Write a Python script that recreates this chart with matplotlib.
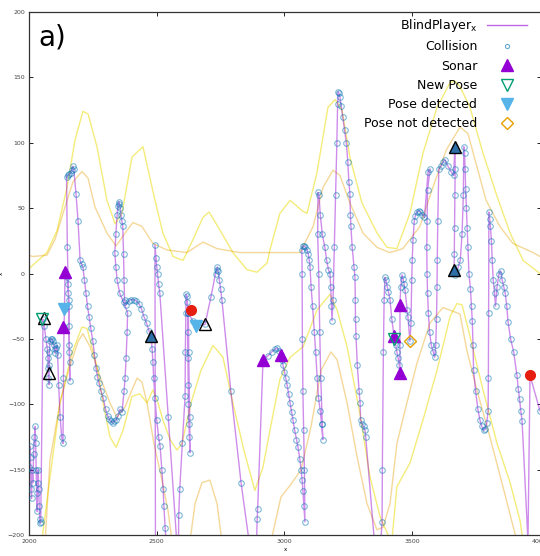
import matplotlib
matplotlib.use("Agg")
import matplotlib.pyplot as plt

plt.rcParams["font.family"] = ["DejaVu Sans"]

# trajectory of the player (time, x)
path_t = [
    2000, 2003, 2006, 2008, 2010, 2012, 2015, 2018, 2021, 2024, 2026, 2028, 2030, 2032, 2034, 2036,
    2038, 2040, 2042, 2044, 2046, 2055,
    2060, 2066, 2072, 2074, 2075, 2076, 2078, 2079, 2080, 2082, 2085, 2089, 2093, 2097, 2100, 2103,
    2106, 2109, 2112, 2116, 2122, 2128, 2133, 2135, 2137, 2139, 2141, 2148, 2152, 2154, 2156, 2157,
    2158, 2159, 2160, 2158, 2155, 2150, 2147, 2152, 2158, 2163, 2167, 2171, 2175, 2184, 2192, 2200,
    2206, 2211, 2217, 2223, 2229, 2235, 2242, 2250, 2256, 2262, 2268, 2274, 2282, 2290, 2300, 2308,
    2313, 2320, 2327, 2334, 2341, 2348, 2355, 2364, 2372, 2376, 2380, 2384, 2386, 2370, 2355, 2345,
    2340, 2336, 2340, 2345, 2348, 2351, 2354, 2357, 2360, 2364, 2367, 2370, 2372, 2374, 2380, 2390,
    2400, 2410, 2420, 2430, 2440, 2450, 2460, 2470, 2478, 2482, 2485, 2488, 2493, 2500, 2507, 2513,
    2520, 2525, 2528, 2533, 2540, 2495, 2493, 2497, 2500, 2503, 2507, 2512, 2545, 2580, 2585, 2586,
    2590, 2600, 2611, 2612, 2614, 2615, 2618, 2620, 2622, 2621, 2622, 2623, 2624, 2626, 2628, 2630,
    2629, 2625, 2624, 2640, 2654, 2689, 2712, 2730, 2734, 2737, 2740, 2745, 2750, 2755, 2790, 2830,
    2865, 2890, 2893, 2895, 2916, 2935, 2950, 2962, 2970, 2978, 2986, 2990, 2994, 3000, 3005, 3010,
    3016, 3022, 3028, 3033, 3040, 3047, 3053, 3060, 3065, 3069, 3072, 3076, 3080, 3078, 3075, 3072,
    3070, 3069, 3068, 3072, 3077, 3082, 3088, 3093, 3097, 3100, 3104, 3110, 3117, 3122, 3128, 3133,
    3140, 3145, 3150, 3148, 3142, 3138, 3134, 3130, 3131, 3135, 3140, 3148, 3158, 3165, 3172, 3178,
    3181, 3184, 3186, 3190, 3195, 3200, 3205, 3208, 3210, 3213, 3217, 3222, 3228, 3235, 3242, 3248,
    3252, 3256, 3258, 3260, 3265, 3272, 3276, 3277, 3278, 3280, 3285, 3292, 3296, 3298, 3303, 3310,
    3315, 3318, 3354, 3375, 3382, 3383, 3387, 3390, 3393, 3397, 3402, 3407, 3413, 3420, 3429, 3436,
    3440, 3445, 3449, 3452, 3452, 3452, 3455, 3460, 3464, 3468, 3472, 3480, 3483, 3491, 3495, 3498,
    3500, 3503, 3508, 3512, 3518, 3525, 3532, 3540, 3548, 3562, 3570, 3560, 3558, 3557, 3558, 3560,
    3563, 3568, 3575, 3582, 3588, 3592, 3595, 3597, 3598, 3600, 3604, 3612, 3620, 3628, 3640, 3652,
    3662, 3667, 3668, 3667, 3666, 3665, 3664, 3668, 3673, 3680, 3688, 3695, 3700, 3702, 3705, 3707,
    3709, 3712, 3715, 3718, 3722, 3728, 3732, 3735, 3738, 3740, 3748, 3757, 3765, 3772, 3780, 3786,
    3792, 3797, 3798, 3799, 3800, 3803, 3806, 3810, 3813, 3817, 3822, 3826, 3832, 3840, 3846, 3852,
    3858, 3864, 3870, 3875, 3885, 3897, 3910, 3915, 3920, 3925, 3930, 3953, 3961, 4000,
]
path_x = [
    -148, -132, -140, -165, -172, -150, -160, -138, -125, -117, -130, -150, -168, -182, -160, -150,
    -165, -178, -188, -191, -190, -35,
    -40, -50, -58, -65, -72, -80, -85, -70, -60, -52, -50, -50, -52, -55, -58, -61,
    -57, -55, -62, -85, -110, -125, -130, -80, -41, -27, 1, -3, -8, -15, -25, -40,
    -55, -68, -82, -60, -20, 20, 74, 75, 76, 77, 79, 82, 80, 61, 40, 10,
    7, 5, -5, -15, -25, -33, -42, -52, -62, -72, -79, -84, -90, -95, -104, -109,
    -111, -113, -114, -113, -112, -109, -104, -106, -90, -80, -65, -45, -30, -22, -15, -5,
    5, 16, 30, 45, 52, 55, 53, 50, 45, 40, 36, 15, -5, -20, -24, -21,
    -20, -20, -21, -23, -27, -33, -38, -44, -48, -58, -68, -80, -95, -112, -125, -132,
    -150, -165, -178, -195, -215, -215, 22, 12, 5, 0, -8, -15, -110, -210, -210, -185,
    -165, -130, -94, -60, -30, -16, -17, -22, -30, -45, -65, -85, -100, -115, -125, -137,
    -110, -60, -30, -36, -40, -39, -18, 0, 3, 5, 2, -5, -12, -20, -90, -160,
    -210, -210, -188, -180, -66, -63, -60, -58, -57, -59, -62, -66, -70, -75, -80, -85,
    -92, -99, -106, -112, -120, -127, -133, -142, -150, -158, -166, -178, -190, -150, -120, -90,
    -50, 0, 18, 21, 21, 20, 18, 15, 10, 5, -10, -25, -45, -60, -80, -95,
    -105, -115, -127, -115, -80, -45, 0, 30, 62, 60, 45, 30, 20, 10, 3, 0,
    -10, -25, -36, -20, 20, 60, 100, 130, 139, 138, 135, 128, 120, 110, 100, 85,
    70, 61, 45, 36, 20, 5, -3, -20, -35, -48, -70, -90, -99, -112, -115, -117,
    -120, -125, -210, -210, -190, -150, -60, -20, -3, -5, -10, -14, -20, -35, -48, -55,
    -60, -65, -70, -76, -55, -24, -10, -1, -4, -8, -13, -28, -33, -52, -38, -5,
    10, 26, 40, 44, 47, 48, 47, 45, 43, 78, 80, 64, 40, 20, 0, -15,
    -30, -45, -55, -60, -64, -55, -35, -10, 10, 40, 80, 82, 85, 87, 82, 78,
    75, 97, 80, 60, 35, 15, 3, -1, 2, 5, 10, 30, 60, 97, 92, 80,
    65, 50, 35, 20, 0, -12, -25, -36, -55, -74, -90, -104, -112, -117, -120, -119,
    -114, -105, -80, -30, 47, 42, 36, 25, 10, -5, -15, -25, -10, 0, 2, -5,
    -10, -15, -25, -37, -50, -60, -78, -88, -96, -105, -113, -205, -78, -105,
]

# envelope curves
upper_yellow_t = [1996, 2070, 2110, 2149, 2180, 2211, 2231, 2266, 2305, 2337, 2364, 2403, 2446,
                  2493, 2524, 2564, 2603, 2642, 2681, 2705, 2748, 2798, 2853, 2892, 2932, 2943,
                  2982, 3022, 3069, 3088, 3127, 3170, 3198, 3225, 3256, 3303, 3362, 3401, 3440,
                  3491, 3542, 3597, 3648, 3668, 3687, 3726, 3777, 3832, 3883, 3934, 4000]
upper_yellow_x = [3, 16, 33, 66, 102, 124, 122, 97, 56, 38, 46, 89, 97,
                  56, 31, 13, 10, 26, 43, 47, 33, 16, 3, 1, 8, 18,
                  46, 56, 48, 46, 77, 127, 133, 125, 89, 54, 31, 20, 19,
                  46, 92, 127, 146, 147, 143, 127, 92, 59, 31, 10, 0]

upper_orange_t = [1996, 2016, 2070, 2102, 2141, 2172, 2207, 2231, 2258, 2305, 2341, 2376, 2407,
                  2442, 2485, 2540, 2618, 2681, 2736, 2826, 2943, 3061, 3112, 3151, 3190, 3217,
                  3256, 3307, 3362, 3412, 3463, 3530, 3581, 3632, 3687, 3718, 3750, 3789, 3843,
                  3894, 3973, 4000]
upper_orange_x = [14, 13, 14, 26, 51, 70, 78, 73, 51, 31, 21, 31, 39,
                  36, 23, 18, 16, 24, 19, 16, 16, 16, 36, 66, 79, 75,
                  54, 31, 20, 16, 19, 36, 66, 94, 112, 107, 84, 56, 36,
                  23, 16, 13]

lower_yellow_t = [2050, 2082, 2121, 2168, 2207, 2227, 2266, 2290, 2317, 2341, 2368, 2403, 2434,
                  2462, 2485, 2505, 2524, 2552, 2579, 2599, 2634, 2673, 2720, 2759, 2798, 2841,
                  2884, 2916, 2943, 2982, 3022, 3073, 3127, 3178, 3206, 3245, 3295, 3334, 3374,
                  3401, 3420, 3440, 3491, 3542, 3597, 3648, 3675, 3695, 3726, 3777, 3832, 3883,
                  3922, 3934]
lower_yellow_x = [-205, -156, -99, -61, -41, -42, -71, -99, -125, -133, -120, -94, -92,
                  -99, -89, -99, -112, -127, -135, -130, -99, -74, -55, -64, -99, -135,
                  -166, -148, -120, -81, -64, -56, -28, -16, -28, -56, -107, -155, -186,
                  -198, -205, -163, -145, -112, -74, -33, -23, -24, -48, -89, -130, -160,
                  -189, -205]

lower_orange_t = [2063, 2082, 2121, 2160, 2192, 2211, 2239, 2278, 2317, 2344, 2376, 2403, 2423,
                  2442, 2462, 2489, 2517, 2544, 2560,
                  2630, 2650, 2677, 2708, 2736, 2755,
                  2947, 2986, 3026, 3065, 3104, 3143, 3182, 3206, 3245, 3284, 3323, 3362, 3386,
                  3413, 3440, 3479, 3518, 3569, 3620, 3687, 3714, 3753, 3804, 3855, 3910, 3960]
lower_orange_x = [-205, -143, -99, -71, -52, -46, -56, -79, -99, -110, -102, -89, -80,
                  -83, -99, -130, -155, -181, -205,
                  -205, -176, -160, -158, -176, -205,
                  -205, -171, -161, -150, -117, -74, -60, -66, -99, -140, -176, -196, -194,
                  -176, -130, -99, -69, -38, -26, -31, -59, -89, -125, -163, -205, -230]

# events along the trajectory
sonar_t = [2141, 2133, 2916, 2986, 3429, 3452, 3452]
sonar_x = [1, -41, -66, -62, -48, -24, -76]
new_pose_t = [2051, 3429]
new_pose_x = [-35, -50]
detected_t = [2137, 2654]
detected_x = [-27, -40]
not_detected_t = [3491]
not_detected_x = [-52]
lost_t = [2634, 3961]
lost_x = [-28, -78]
mark_t = [2058, 2078, 2478, 2689, 3667, 3664]
mark_x = [-34, -76, -48, -39, 97, 3]
mark_face = ["none", "none", "#2f6fa8", "none", "#2f6fa8", "#2f6fa8"]

fig = plt.figure(figsize=(5.4, 5.56), dpi=100)
ax = fig.add_axes([29 / 540, 21 / 556, 512 / 540, 523 / 556])

ax.plot(upper_yellow_t, upper_yellow_x, color="#f0e442", lw=1.0, alpha=0.7, zorder=1)
ax.plot(lower_yellow_t, lower_yellow_x, color="#f0e442", lw=1.0, alpha=0.7, zorder=1)
ax.plot(upper_orange_t, upper_orange_x, color="#e69f00", lw=1.0, alpha=0.4, zorder=1)
ax.plot(lower_orange_t, lower_orange_x, color="#e69f00", lw=1.0, alpha=0.4, zorder=1)

line, = ax.plot(path_t, path_x, color="#9400d3", lw=1.0, alpha=0.45, zorder=2,
                label=r"BlindPlayer$_\mathregular{x}$")
ax.plot(path_t, path_x, ls="none", marker="o", ms=4, mfc="none", mec="#0072b2",
        mew=0.8, alpha=0.5, zorder=3)

for t, x, fc in zip(mark_t, mark_x, mark_face):
    ax.plot(t, x, marker="^", ms=8, mfc=fc, mec="black", mew=1.0, ls="none", zorder=4)

sonar, = ax.plot(sonar_t, sonar_x, ls="none", marker="^", ms=8, color="#9400d3", zorder=5)
newpose, = ax.plot(new_pose_t, new_pose_x, ls="none", marker="v", ms=8, mfc="none",
                   mec="#009e73", mew=1.0, zorder=5)
detected, = ax.plot(detected_t, detected_x, ls="none", marker="v", ms=8, color="#56b4e9",
                    zorder=5)
notdet, = ax.plot(not_detected_t, not_detected_x, ls="none", marker="D", ms=6.5, mfc="none",
                  mec="#e69f00", mew=1.0, zorder=5)
ax.plot(lost_t, lost_x, ls="none", marker="o", ms=7, color="#e51e10", zorder=5)

ax.set_xlim(2000, 4004)
ax.set_ylim(-200, 200)
ax.set_xticks([2000, 2500, 3000, 3500, 4000])
ax.set_yticks(range(-200, 201, 50))
ax.tick_params(direction="in", top=True, right=True, length=3, width=0.6,
               labelsize=4.5, labelcolor="#444444", pad=3)
for sp in ax.spines.values():
    sp.set_linewidth(0.9)
    sp.set_color("#333333")
ax.set_xlabel("x", fontsize=4, labelpad=2)
ax.set_ylabel("x", fontsize=4, labelpad=3)

ax.text(0.018, 0.935, "a)", transform=ax.transAxes, fontsize=20)

# legend handles: line sample with full opacity, small circle for collisions
line_handle = plt.Line2D([], [], color="#9400d3", lw=1.0, alpha=0.6)
coll_handle = plt.Line2D([], [], ls="none", marker="o", ms=3, mfc="none", mec="#0072b2",
                         mew=0.8, alpha=0.6)
ax.legend([line_handle, coll_handle, sonar, newpose, detected, notdet],
          [line.get_label(), "Collision", "Sonar", "New Pose", "Pose detected",
           "Pose not detected"],
          loc="upper right", bbox_to_anchor=(0.973, 0.99), markerfirst=False,
          frameon=False, fontsize=9, handlelength=3.2, handletextpad=0.8,
          labelspacing=0.5, borderpad=0, borderaxespad=0)

fig.savefig("out.png", dpi=100)
